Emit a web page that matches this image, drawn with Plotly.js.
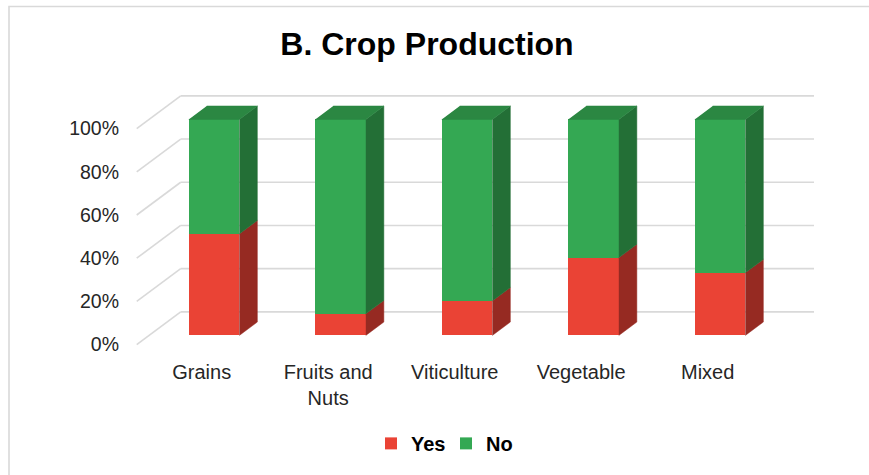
<!DOCTYPE html>
<html><head><meta charset="utf-8">
<script src="https://cdn.plot.ly/plotly-3.0.1.min.js"></script>
<style>html,body{margin:0;padding:0;background:#fff}</style>
</head><body><div id="chart" style="width:869px;height:475px"></div>
<script>
// ---- data ----
const categories = ['Grains', 'Fruits and<br>Nuts', 'Viticulture', 'Vegetable', 'Mixed'];
const yesValues = [47, 10, 16, 36, 29];
const noValues  = [53, 90, 84, 64, 71];
const yTicks = [0, 20, 40, 60, 80, 100];
const yTickLabels = ['0%', '20%', '40%', '60%', '80%', '100%'];

// ---- layout geometry (pixels) ----
const L = 125, R = 850, T = 80, B = 360;
const X0PX = 214, XSTEP = 126.5, Y0PX = 337.3, YSCALE = 2.176;
const DEPTH_X = 44, DEPTH_Y = 33, F_FRONT = 0.28, F_BACK = 0.69;
const BW = 0.4;
const ux = p => p / XSTEP, uy = p => p / YSCALE;
const xr = [(L - X0PX) / XSTEP, (R - X0PX) / XSTEP];
const yr = [(Y0PX - B) / YSCALE, (Y0PX - T) / YSCALE];
const barD = {dx: ux(DEPTH_X * (F_BACK - F_FRONT)), dy: uy(DEPTH_Y * (F_BACK - F_FRONT))};
const toBack = {dx: ux(DEPTH_X * (1 - F_FRONT)), dy: uy(DEPTH_Y * (1 - F_FRONT))};
const toFront = {dx: -ux(DEPTH_X * F_FRONT), dy: -uy(DEPTH_Y * F_FRONT)};
const full = {dx: ux(DEPTH_X), dy: uy(DEPTH_Y)};
const wallLeftBack = (180.7 - X0PX) / XSTEP, wallRightBack = (814 - X0PX) / XSTEP;

const xIdx = categories.map((c, i) => i);
const RED = '#EA4335', RED_SIDE = '#962A22';
const GREEN = '#34A853', GREEN_SIDE = '#236F36', GREEN_TOP = '#2B8742';

function sideFaces(bases, tops) {
  const x = [], y = [];
  xIdx.forEach(i => {
    const xr0 = i + BW / 2;
    x.push(xr0, xr0 + barD.dx, xr0 + barD.dx, xr0, null);
    y.push(bases[i], bases[i] + barD.dy, tops[i] + barD.dy, tops[i], null);
  });
  return {x, y};
}
function topFaces(tops) {
  const x = [], y = [];
  xIdx.forEach(i => {
    const a = i - BW / 2, b = i + BW / 2;
    x.push(a, b, b + barD.dx, a + barD.dx, null);
    y.push(tops[i], tops[i], tops[i] + barD.dy, tops[i] + barD.dy, null);
  });
  return {x, y};
}
const zeros = xIdx.map(() => 0);
const totals = xIdx.map(i => yesValues[i] + noValues[i]);
const redSide = sideFaces(zeros, yesValues);
const greenSide = sideFaces(yesValues, totals);
const greenTop = topFaces(totals);

const poly = (p, color) => ({
  type: 'scatter', mode: 'lines', x: p.x, y: p.y, fill: 'toself', fillcolor: color,
  line: {color: color, width: 0.5}, showlegend: false, hoverinfo: 'skip'
});

const traces = [
  {type: 'bar', name: 'Yes', x: xIdx, y: yesValues, width: BW, marker: {color: RED, line: {width: 0}}, hoverinfo: 'skip'},
  {type: 'bar', name: 'No', x: xIdx, y: noValues, width: BW, marker: {color: GREEN, line: {width: 0}}, hoverinfo: 'skip'},
  poly(redSide, RED_SIDE),
  poly(greenSide, GREEN_SIDE),
  poly(greenTop, GREEN_TOP),
  {type: 'scatter', x: [], y: [], xaxis: 'x2', yaxis: 'y2', showlegend: false, hoverinfo: 'skip'}
];

const GRID = '#D9D9D9';
const shapes = [];
yTicks.forEach(t => {
  const yb = t + toBack.dy;
  shapes.push({type: 'line', xref: 'x', yref: 'y', layer: 'below', x0: wallLeftBack, x1: wallRightBack, y0: yb, y1: yb, line: {color: GRID, width: 1.6}});
  shapes.push({type: 'line', xref: 'x', yref: 'y', layer: 'below', x0: wallLeftBack - full.dx, x1: wallLeftBack, y0: yb - full.dy, y1: yb, line: {color: GRID, width: 1.6}});
});
// chart border
const px2paperX = p => (p - L) / (R - L), px2paperY = p => (B - p) / (B - T);
shapes.push({type: 'path', xref: 'paper', yref: 'paper', layer: 'below',
  path: `M ${px2paperX(9)} ${px2paperY(490)} L ${px2paperX(9)} ${px2paperY(6)} L ${px2paperX(880)} ${px2paperY(6)}`,
  line: {color: '#D9D9D9', width: 1.6}});

const FONT = 'Liberation Sans, Arial, sans-serif';
const layout = {
  width: 869, height: 475,
  margin: {l: L, r: 869 - R, t: T, b: 475 - B, pad: 0},
  paper_bgcolor: '#fff', plot_bgcolor: 'rgba(0,0,0,0)',
  barmode: 'stack', bargap: 0,
  title: {text: '<b>B. Crop Production</b>', font: {family: FONT, size: 32, color: '#000'},
    x: 427 / 869, xanchor: 'center', xref: 'container', y: 1 - 44 / 475, yref: 'container', yanchor: 'middle'},
  xaxis: {range: xr, showgrid: false, zeroline: false, showticklabels: false, showline: false, ticks: '', fixedrange: true},
  yaxis: {range: yr, showgrid: false, zeroline: false, showticklabels: false, showline: false, ticks: '', fixedrange: true},
  xaxis2: {overlaying: 'x', anchor: 'y2', side: 'bottom', range: [xr[0] - toFront.dx, xr[1] - toFront.dx],
    tickmode: 'array', tickvals: xIdx, ticktext: categories, showgrid: false, zeroline: false, showline: false, ticks: '',
    tickfont: {family: FONT, size: 20, color: '#262626'}, fixedrange: true},
  yaxis2: {overlaying: 'y', anchor: 'x2', side: 'left', range: [yr[0] - toFront.dy, yr[1] - toFront.dy],
    tickmode: 'array', tickvals: yTicks, ticktext: yTickLabels, showgrid: false, zeroline: false, showline: false, ticks: '',
    ticklabelstandoff: 5,
    tickfont: {family: FONT, size: 19.5, color: '#262626'}, fixedrange: true},
  shapes: shapes,
  showlegend: true,
  legend: {orientation: 'h', x: px2paperX(446), xanchor: 'center', y: px2paperY(446), yanchor: 'middle',
    entrywidth: 30, entrywidthmode: 'pixels',
    traceorder: 'normal', font: {family: FONT, size: 20, color: '#000', weight: 'bold'}, itemwidth: 30, bgcolor: 'rgba(0,0,0,0)'}
};

Plotly.newPlot('chart', traces, layout, {staticPlot: true, displayModeBar: false});
</script>
</body></html>
